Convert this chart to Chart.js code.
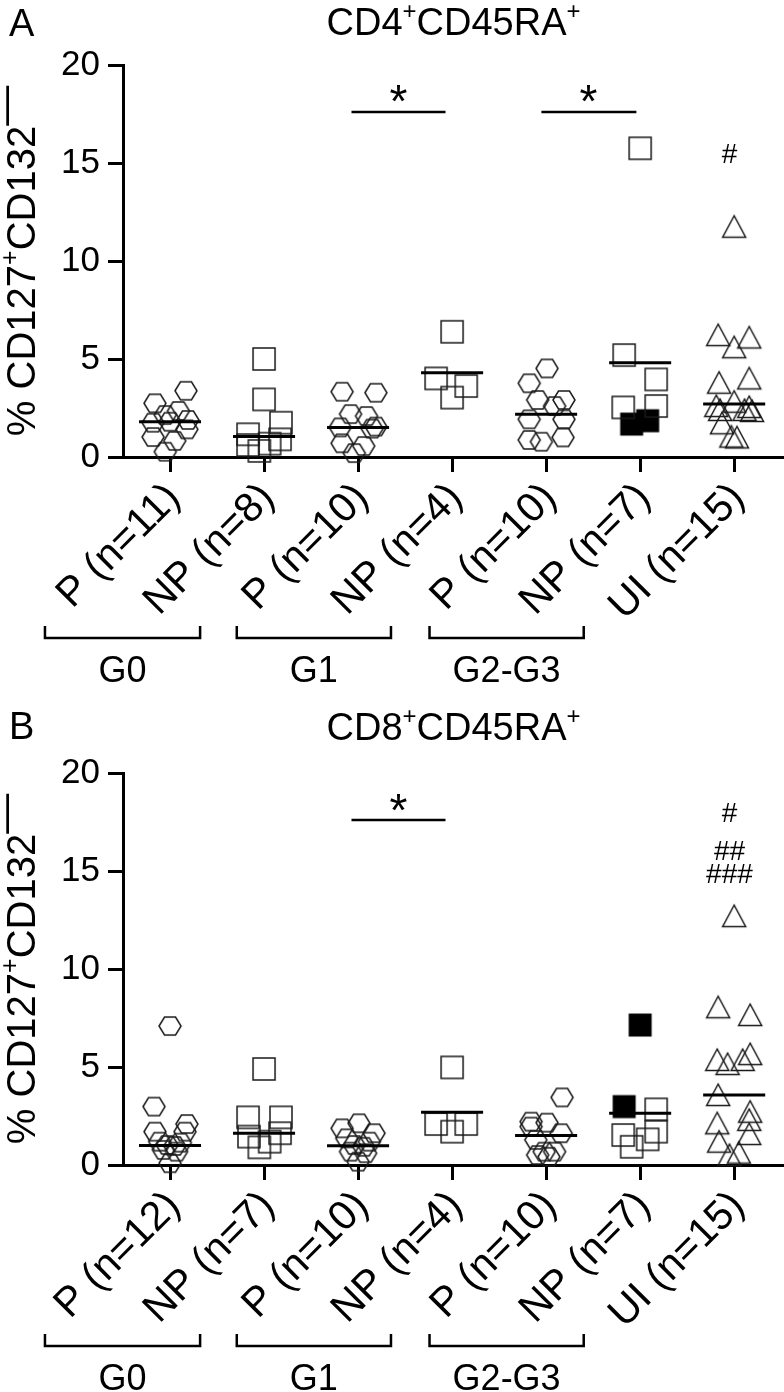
<!DOCTYPE html>
<html><head><meta charset="utf-8">
<script src="https://cdn.jsdelivr.net/npm/chart.js@4/dist/chart.umd.min.js"></script>
<style>
html,body{margin:0;padding:0;background:#fff;}
#wrap{position:relative;width:784px;height:1392px;overflow:hidden;background:#fff;}
.panel{position:absolute;left:0;width:784px;height:708px;}
</style></head><body>
<div id="wrap">
<div class="panel" style="top:0"><canvas id="cA" width="784" height="708"></canvas></div>
<div class="panel" style="top:708px"><canvas id="cB" width="784" height="708"></canvas></div>
</div>
<script>
const FONT = '"Liberation Sans", Arial, Helvetica, sans-serif';

// ---------- shared text ----------
const categoriesA = ['P (n=11)','NP (n=8)','P (n=10)','NP (n=4)','P (n=10)','NP (n=7)','UI (n=15)'];
const categoriesB = ['P (n=12)','NP (n=7)','P (n=10)','NP (n=4)','P (n=10)','NP (n=7)','UI (n=15)'];
const yTickValues = [0, 5, 10, 15, 20];
const groupNames = ['G0', 'G1', 'G2-G3'];
const markerKinds = ['hex','sq','hex','sq','hex','sq','tri'];
// [text, kind] kind: 0 normal, 1 superscript, 2 raised full-size
const titleA = [['CD4',0],['+',1],['CD45RA',0],['+',1]];
const titleB = [['CD8',0],['+',1],['CD45RA',0],['+',1]];
const yTitle = [['% CD127',0],['+',1],['CD132',0],['\u2014',2]];

// ---------- Panel A values (y) and horizontal jitter (category units) ----------
const a0 = [3.38, 2.74, 2.35, 2.14, 1.89, 1.75, 1.80, 1.41, 1.02, 0.82, 0.27];
const a0dx = [0.17, -0.16, 0.09, -0.05, 0.19, -0.18, 0, 0.18, -0.18, 0.05, -0.05];
const a1 = [5.00, 2.94, 1.75, 1.16, 0.90, 0.68, 0.61, 0.31];
const a1dx = [0, 0, 0.18, -0.17, 0.17, 0.06, -0.17, -0.05];
const a2 = [3.33, 3.28, 2.19, 2.09, 1.55, 1.45, 1.51, 0.70, 0.56, 0.20];
const a2dx = [-0.17, 0.19, -0.08, 0.09, 0.19, 0.15, -0.19, -0.17, 0.06, -0.04];
const a3 = [6.39, 4.01, 3.62, 3.03];
const a3dx = [0, -0.17, 0.15, 0];
const a4 = [4.52, 3.76, 2.91, 2.91, 2.60, 1.92, 1.92, 1.00, 0.87, 0.78];
const a4dx = [0.01, -0.18, -0.09, 0.19, 0.09, -0.18, 0.19, 0.18, -0.18, -0.05];
const a5 = [15.75, 5.20, 3.96, 2.60, 2.53];
const a5dx = [0, -0.17, 0.17, 0.17, -0.18];
const a5filled = [1.68, 1.85];
const a5filledDx = [-0.09, 0.08];
const a6 = [11.75, 6.22, 6.10, 5.60, 4.01, 3.79, 2.82, 2.60, 2.40, 2.55, 2.40, 2.35, 1.72, 1.04, 1.00];
const a6dx = [0, -0.17, 0.16, 0, 0.16, -0.16, 0, -0.19, -0.15, 0.16, 0.11, 0.19, -0.13, -0.03, 0.03];
const aCentre = [1.80, 1.04, 1.51, 4.30, 2.18, 4.81, 2.70];
const aSigBars = [[1.93, 2.93, 17.6], [3.95, 4.96, 17.6]];
const aSigMarks = [['*', 2.43, 18.55], ['*', 4.45, 18.55], ['#', 5.95, 15.46]];

// ---------- Panel B ----------
const b0 = [7.09, 2.98, 2.09, 1.70, 1.70, 1.19, 1.14, 1.02, 0.97, 0.77, 0.68, 0.09];
const b0dx = [0, -0.17, 0.18, -0.16, 0.16, -0.11, 0.11, -0.03, 0.05, -0.07, 0.07, 0];
const b1 = [4.90, 2.43, 2.43, 1.45, 1.62, 1.19, 0.90];
const b1dx = [0, -0.17, 0.18, -0.16, 0.17, 0.06, -0.05];
const b2 = [2.13, 1.87, 1.62, 1.36, 1.19, 1.02, 0.93, 0.68, 0.60, 0.17];
const b2dx = [0.01, -0.17, 0.17, -0.12, 0.12, -0.04, 0.06, -0.08, 0.08, 0];
const b3 = [4.98, 2.09, 2.09, 1.70];
const b3dx = [0, -0.17, 0.15, 0];
const b4 = [3.45, 2.21, 2.16, 1.96, 1.62, 1.28, 0.68, 0.68, 0.51, 0.42];
const b4dx = [0.17, -0.16, 0.01, -0.16, 0.16, -0.11, -0.02, 0.09, -0.09, 0.03];
const b5 = [2.84, 1.70, 1.53, 1.31, 0.93];
const b5dx = [0.17, 0.17, -0.18, 0.08, -0.09];
const b5filled = [7.14, 2.98];
const b5filledDx = [0, -0.17];
const b6 = [12.70, 8.05, 7.65, 5.66, 5.36, 5.36, 5.15, 3.57, 2.72, 2.30, 2.13, 1.58, 1.19, 0.63, 0.51];
const b6dx = [0, -0.17, 0.17, 0.17, -0.18, 0.09, -0.07, -0.17, 0.17, 0.16, -0.18, 0.16, -0.16, 0.05, -0.05];
const bCentre = [1.00, 1.62, 0.98, 2.69, 1.51, 2.64, 3.57];
const bSigBars = [[1.93, 2.93, 17.6]];
const bSigMarks = [['*', 2.43, 18.5], ['#', 5.95, 17.96], ['##', 5.95, 16.07], ['###', 5.95, 14.88]];

// ---------- layout (pixels) ----------
const LAYOUT = { areaTop: 65, xAxisHeight: 251, yAxisWidth: 123, xMax: 6.53,
  bracketTop: 169, bracketBottom: 181, groupBaseline: 225, centreHalf: 0.33 };
const bracketSpans = [[-1.33, 0.32], [0.71, 2.35], [2.76, 4.40]];

function makeMarker(kind) {
  const c = document.createElement('canvas'); c.width = 28; c.height = 28;
  const g = c.getContext('2d'); g.translate(14, 14);
  g.lineWidth = 1.5; g.strokeStyle = '#1a1a1a'; g.fillStyle = '#000';
  g.beginPath();
  if (kind === 'hex') { g.moveTo(-11,0); g.lineTo(-5.5,-9); g.lineTo(5.5,-9); g.lineTo(11,0); g.lineTo(5.5,9); g.lineTo(-5.5,9); g.closePath(); g.stroke(); }
  else if (kind === 'sq') { g.rect(-11,-11,22,22); g.stroke(); }
  else if (kind === 'sqf') { g.rect(-11.5,-11.5,23,23); g.fill(); }
  else if (kind === 'tri') { g.moveTo(0,-11); g.lineTo(11.5,10.5); g.lineTo(-11.5,10.5); g.closePath(); g.stroke(); }
  return c;
}
const MK = { hex: makeMarker('hex'), sq: makeMarker('sq'), sqf: makeMarker('sqf'), tri: makeMarker('tri') };

function drawRich(ctx, parts, cx, baseY, size) {
  const main = size + 'px ' + FONT, sup = Math.round(size * 0.62) + 'px ' + FONT;
  const fontOf = k => (k === 1 ? sup : main);
  let w = 0; const ws = [];
  parts.forEach(p => { ctx.font = fontOf(p[1]); const m = ctx.measureText(p[0]).width; ws.push(m); w += m; });
  let x = cx - w / 2;
  ctx.textAlign = 'left'; ctx.textBaseline = 'alphabetic';
  parts.forEach((p, i) => {
    ctx.font = fontOf(p[1]);
    const dy = p[1] === 1 ? size * 0.42 : (p[1] === 2 ? size * 0.42 : 0);
    ctx.fillText(p[0], x, baseY - dy); x += ws[i];
  });
}
function drawCentredGlyph(ctx, text, x, y, font) {
  ctx.font = font; ctx.textAlign = 'center'; ctx.textBaseline = 'alphabetic';
  const m = ctx.measureText(text);
  ctx.fillText(text, x, y + (m.actualBoundingBoxAscent - m.actualBoundingBoxDescent) / 2);
}

function makeChart(id, cfg) {
  const pts = { hex: [], sq: [], tri: [] };
  cfg.values.forEach((vals, i) => vals.forEach((v, j) => pts[markerKinds[i]].push({ x: i + cfg.dx[i][j], y: v })));
  const filled = cfg.filled.map((v, j) => ({ x: 5 + cfg.filledDx[j], y: v }));
  const centre = [];
  cfg.centre.forEach((m, i) => centre.push({ x: i - LAYOUT.centreHalf, y: m }, { x: i + LAYOUT.centreHalf, y: m }, { x: i + 0.5, y: null }));
  const sig = [];
  cfg.sigBars.forEach(b => sig.push({ x: b[0], y: b[2] }, { x: b[1], y: b[2] }, { x: b[1] + 0.01, y: null }));

  const deco = {
    id: 'deco' + id,
    afterDraw(chart) {
      const ctx = chart.ctx, xs = chart.scales.x, ys = chart.scales.y, area = chart.chartArea;
      ctx.save();
      ctx.fillStyle = '#000'; ctx.strokeStyle = '#000';
      ctx.font = '38px ' + FONT; ctx.textAlign = 'left'; ctx.textBaseline = 'alphabetic';
      ctx.fillText(cfg.letter, 9, cfg.letterBase);
      drawRich(ctx, cfg.title, (area.left + area.right) / 2, cfg.titleBase, 38);
      ctx.save(); ctx.translate(35, (area.top + area.bottom) / 2); ctx.rotate(-Math.PI / 2);
      drawRich(ctx, yTitle, 0, 0, 40); ctx.restore();
      cfg.sigMarks.forEach(s => {
        const f = s[0] === '*' ? '46px ' + FONT : '28px ' + FONT;
        drawCentredGlyph(ctx, s[0], xs.getPixelForValue(s[1]), ys.getPixelForValue(s[2]), f);
      });
      ctx.lineWidth = 2.5; ctx.lineCap = 'butt'; ctx.lineJoin = 'miter';
      bracketSpans.forEach((sp, k) => {
        const x1 = xs.getPixelForValue(sp[0]), x2 = xs.getPixelForValue(sp[1]);
        const yt = area.bottom + LAYOUT.bracketTop, yb = area.bottom + LAYOUT.bracketBottom;
        ctx.beginPath(); ctx.moveTo(x1, yt); ctx.lineTo(x1, yb); ctx.lineTo(x2, yb); ctx.lineTo(x2, yt); ctx.stroke();
        ctx.font = '36px ' + FONT; ctx.textAlign = 'center'; ctx.textBaseline = 'alphabetic';
        ctx.fillText(groupNames[k], (x1 + x2) / 2, area.bottom + LAYOUT.groupBaseline);
      });
      ctx.restore();
    }
  };

  const pointDs = (data, style) => ({ data, pointStyle: style, pointRadius: 11, pointHoverRadius: 11, showLine: false, clip: false });
  return new Chart(document.getElementById(id), {
    type: 'scatter',
    data: { datasets: [
      { data: centre, showLine: true, borderColor: '#000', borderWidth: 3, pointRadius: 0, spanGaps: false, clip: false, borderCapStyle: 'butt' },
      { data: sig, showLine: true, borderColor: '#000', borderWidth: 2.5, pointRadius: 0, spanGaps: false, clip: false, borderCapStyle: 'butt' },
      pointDs(pts.hex, MK.hex), pointDs(pts.sq, MK.sq), pointDs(filled, MK.sqf), pointDs(pts.tri, MK.tri)
    ] },
    options: {
      responsive: false, animation: false, devicePixelRatio: 1,
      layout: { autoPadding: false, padding: { top: LAYOUT.areaTop, left: 0, right: 0, bottom: 0 } },
      plugins: { legend: { display: false }, tooltip: { enabled: false }, title: { display: false } },
      scales: {
        x: {
          type: 'linear', min: -0.5, max: LAYOUT.xMax,
          afterBuildTicks: s => { s.ticks = cfg.categories.map((_, i) => ({ value: i })); },
          afterFit: s => { s.height = LAYOUT.xAxisHeight; s.paddingLeft = 0; s.paddingRight = 0; },
          ticks: { callback: v => cfg.categories[v], autoSkip: false, maxRotation: 45, minRotation: 45,
                   font: { family: FONT, size: 41 }, color: '#000', padding: 2, labelOffset: 4 },
          grid: { drawOnChartArea: false, drawTicks: true, tickLength: 15, lineWidth: 3, color: '#000' },
          border: { display: true, color: '#000', width: 3 }
        },
        y: {
          min: 0, max: 20,
          afterBuildTicks: s => { s.ticks = yTickValues.map(v => ({ value: v })); },
          afterFit: s => { s.width = LAYOUT.yAxisWidth; },
          ticks: { font: { family: FONT, size: 35 }, color: '#000', padding: 8 },
          grid: { drawOnChartArea: false, drawTicks: true, tickLength: 15, lineWidth: 3, color: '#000' },
          border: { display: true, color: '#000', width: 3 }
        }
      }
    },
    plugins: [deco]
  });
}

makeChart('cA', { categories: categoriesA, values: [a0,a1,a2,a3,a4,a5,a6], dx: [a0dx,a1dx,a2dx,a3dx,a4dx,a5dx,a6dx],
  filled: a5filled, filledDx: a5filledDx, centre: aCentre, sigBars: aSigBars, sigMarks: aSigMarks,
  letter: 'A', letterBase: 36, title: titleA, titleBase: 35 });
makeChart('cB', { categories: categoriesB, values: [b0,b1,b2,b3,b4,b5,b6], dx: [b0dx,b1dx,b2dx,b3dx,b4dx,b5dx,b6dx],
  filled: b5filled, filledDx: b5filledDx, centre: bCentre, sigBars: bSigBars, sigMarks: bSigMarks,
  letter: 'B', letterBase: 31, title: titleB, titleBase: 32 });
</script>
</body></html>
